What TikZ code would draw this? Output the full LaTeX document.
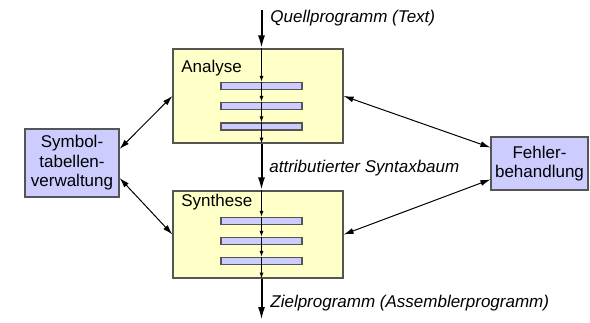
\documentclass[tikz,border=0pt]{standalone}
\usepackage{fontspec}
\setmainfont{Liberation Sans}
\usetikzlibrary{arrows.meta}

\definecolor{phase}{HTML}{FFFFC8}
\definecolor{tool}{HTML}{CCCCFF}
\definecolor{rim}{HTML}{555555}

\begin{document}
\begin{tikzpicture}[x=0.5pt,y=-0.5pt,
  font=\fontsize{8.5}{9.8}\selectfont,
  phasebox/.style={draw=rim,fill=phase,line width=0.6pt,minimum width=85pt,inner sep=0pt},
  phaselabel/.style={anchor=west,inner sep=0pt},
  passbar/.style={draw=rim,fill=tool,line width=0.6pt,minimum width=40.5pt,minimum height=3.5pt,inner sep=0pt},
  helper/.style={draw=rim,fill=tool,line width=0.6pt,align=center,inner sep=0pt},
  flow/.style={line width=1pt,-{Latex[length=6.5pt,width=3.5pt]}},
  pass/.style={line width=0.5pt,-{Latex[length=3pt,width=2pt]}},
  link/.style={line width=0.5pt,{Latex[length=5pt,width=3pt]}-{Latex[length=5pt,width=3pt]}},
  flowlabel/.style={anchor=west,inner sep=0pt,font=\fontsize{8.5}{9.8}\selectfont\itshape}]
\useasboundingbox (0,0) rectangle (590,322);

% Phases
\node[phasebox,minimum height=47pt] (ana) at (258,96) {};
\node[phaselabel] (analab) at (181,68) {Analyse};
\node[phasebox,minimum height=43.5pt] (syn) at (258,234.5) {};
\node[phaselabel] (synlab) at (181,202) {Synthese};

% Passes inside the phases
\foreach \i/\y in {1/86,2/106,3/126.5} {
    \node[passbar] (a\i) at (261.5,\y) {};
}
\foreach \i/\y in {1/221,2/241,3/261} {
    \node[passbar] (b\i) at (261.5,\y) {};
}

% Side components
\node[helper,minimum width=47pt,minimum height=34pt] (sym) at (72,163) {Symbol-\\tabellen-\\verwaltung};
\node[helper,minimum width=48.5pt,minimum height=26.5pt] (feh) at (539.5,163.5) {Fehler-\\behandlung};

% Main data flow
\coordinate (src) at (261.5,10);
\coordinate (dst) at (261.5,320);
\draw[flow] (src) -- (src |- ana.north);
\draw[pass] (ana.north -| a1) -- (a1.north);
\draw[pass] (a1.north) -- (a2.north);
\draw[pass] (a2.north) -- (a3.north);
\draw[pass] (a3.north) -- (ana.south -| a3);
\draw[flow] (ana.south -| a3) -- (syn.north -| b1);
\draw[pass] (syn.north -| b1) -- (b1.north);
\draw[pass] (b1.north) -- (b2.north);
\draw[pass] (b2.north) -- (b3.north);
\draw[pass] (b3.north) -- (syn.south -| b3);
\draw[flow] (syn.south -| b3) -- (dst);

\node[flowlabel] (lsrc) at (270,18) {Quellprogramm (Text)};
\node[flowlabel] (lmid) at (269,168) {attributierter Syntaxbaum};
\node[flowlabel] (ldst) at (270,303) {Zielprogramm (Assemblerprogramm)};

% Links to symbol table and error handling
\draw[link] ([yshift=7pt]sym.east) -- (ana.west);
\draw[link] ([yshift=-7.5pt]sym.east) -- (syn.west);
\draw[link] (ana.east) -- ([yshift=8pt]feh.west);
\draw[link] (syn.east) -- ([yshift=-8pt]feh.west);
\end{tikzpicture}
\end{document}
